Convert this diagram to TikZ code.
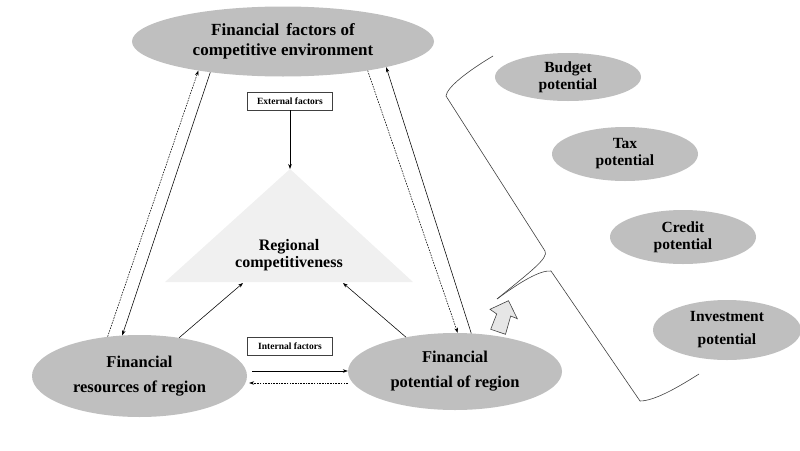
\documentclass[tikz,border=0pt]{standalone}
\usepackage{fontspec}
\setmainfont{Liberation Serif}
\usetikzlibrary{shapes.geometric,arrows.meta}
\definecolor{ellgray}{HTML}{BFBFBF}
\definecolor{trigray}{HTML}{F0F0F0}
\definecolor{blockgray}{HTML}{E6E6E6}
\definecolor{linegray}{HTML}{404040}
\tikzset{
  ell/.style={ellipse, fill=ellgray, draw=none, inner sep=0pt, align=center},
  fbig/.style={font=\bfseries\fontsize{17}{20}\selectfont},
  fmid/.style={font=\bfseries\fontsize{16.5}{25}\selectfont},
  fsmall/.style={font=\bfseries\fontsize{15.5}{17}\selectfont},
  finv/.style={font=\bfseries\fontsize{15.5}{23}\selectfont},
  factbox/.style={draw=linegray, fill=white, line width=0.6pt, inner sep=0pt,
    minimum width=85pt, minimum height=18pt, font=\bfseries\fontsize{9.5}{10}\selectfont},
  arr/.style={-{Stealth[length=5pt,width=3.6pt]}, line width=0.55pt},
  darr/.style={arr, dash pattern=on 1.6pt off 1.1pt},
  bracel/.style={draw=linegray, line width=0.6pt}
}
\begin{document}
\begin{tikzpicture}[x=1pt,y=-1pt]
\useasboundingbox (0,0) rectangle (800,450);

% triangle
\coordinate (tA) at (290,169);
\coordinate (tL) at (165,282);
\coordinate (tR) at (413,282);
\fill[trigray] (tA) -- (tR) -- (tL) -- cycle;
\node[font=\bfseries\fontsize{16}{17}\selectfont, align=center] (comp) at (289,255) {Regional\\competitiveness};
\coordinate (bL) at (243,283);
\coordinate (bR) at (343,283);

% main ellipses
\node[ell, fbig, minimum width=302pt, minimum height=70pt] (top) at (283,41.5) {Financial\, factors of\\competitive environment};
\node[ell, fmid, minimum width=215pt, minimum height=82pt] (left) at (139.5,376) {Financial\\resources of region};
\node[ell, fmid, minimum width=214pt, minimum height=77pt] (right) at (455,371.5) {Financial\\potential of region};

% small ellipses
\node[ell, fsmall, minimum width=146pt, minimum height=48pt] (budget) at (568,77) {Budget\\potential};
\node[ell, fsmall, minimum width=146pt, minimum height=54pt] (tax) at (625,154) {Tax\\potential};
\node[ell, fsmall, minimum width=146pt, minimum height=54pt] (credit) at (683,237) {Credit\\potential};
\node[ell, finv, minimum width=148pt, minimum height=60pt] (invest) at (727,330) {Investment\\potential};

% factor boxes
\node[factbox] (ext) at (290,101) {External factors};
\node[factbox] (int) at (290,346) {Internal factors};

% connectors
\draw[arr] (ext.south) -- (tA);
\draw[arr] (left.44.6) -- (bL);
\draw[arr] (right.145.8) -- (bR);
\draw[arr] ([shift={(5,-5)}]left.east) -- ([shift={(0,-0.5)}]right.west);
\draw[darr] ([shift={(0,11.5)}]right.west) -- ([shift={(2,7)}]left.east);
\draw[arr] (top.203.5) -- (left.113.6);
\draw[darr] (left.129.4) -- (top.199.3);
\draw[darr] (top.341) -- (right.86);
\draw[arr] (right.67) -- (top.-14.6);

% big brace
\draw[bracel] (493,56) .. controls (468,71) and (447,87) .. (446,96)
  -- (545,251) .. controls (549,258) and (530,272) .. (497,299);
\draw[bracel] (497,299) .. controls (520,282) and (540,270) .. (551,271)
  -- (640,401) .. controls (655,401) and (680,386) .. (699,374);

% block arrow
\draw[linegray, fill=blockgray, line width=0.6pt, line join=miter]
  (508.5,300.7) -- (517.3,318.7) -- (510.7,316) -- (505.5,334.3)
  -- (490.7,329.3) -- (496.7,314) -- (490,309.3) -- cycle;
\end{tikzpicture}
\end{document}
